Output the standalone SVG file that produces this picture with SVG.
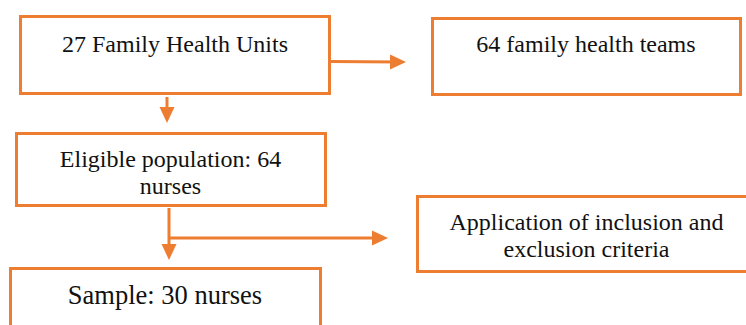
<svg xmlns="http://www.w3.org/2000/svg" width="746" height="325" viewBox="0 0 746 325">
  <style>
    .box { fill: #ffffff; stroke: #ED7D31; stroke-width: 3; }
    .lbl { font-family: "Liberation Serif", "Times New Roman", serif; font-size: 24px; fill: #111111; text-anchor: middle; }
    .conn { stroke: #ED7D31; stroke-width: 3; fill: none; }
  </style>
  <defs>
    <marker id="arrow" markerUnits="userSpaceOnUse" markerWidth="16" markerHeight="16" viewBox="0 0 16 16" refX="10" refY="8" orient="auto">
      <path d="M0,0.5 L16,8 L0,15.5 z" fill="#ED7D31"/>
    </marker>
  </defs>
  <rect x="0" y="0" width="746" height="325" fill="#ffffff"/>

  <g id="connectors">
    <line class="conn" x1="331" y1="61.5" x2="400" y2="62" marker-end="url(#arrow)"/>
    <line class="conn" x1="167" y1="97" x2="167" y2="117" marker-end="url(#arrow)"/>
    <line class="conn" x1="169" y1="208" x2="169" y2="254" marker-end="url(#arrow)"/>
    <line class="conn" x1="169" y1="238" x2="382" y2="238" marker-end="url(#arrow)"/>
  </g>

  <g id="node-units">
    <rect class="box" x="20.5" y="16.5" width="309" height="77"/>
    <text class="lbl" x="175" y="52">27 Family Health Units</text>
  </g>

  <g id="node-teams">
    <rect class="box" x="432.5" y="18.5" width="308" height="76"/>
    <text class="lbl" x="586" y="52">64 family health teams</text>
  </g>

  <g id="node-eligible">
    <rect class="box" x="16.5" y="133.5" width="309" height="72"/>
    <text class="lbl" x="170.5" y="167">Eligible population: 64</text>
    <text class="lbl" x="170.5" y="194">nurses</text>
  </g>

  <g id="node-criteria">
    <rect class="box" x="417.5" y="196.5" width="340" height="75"/>
    <text class="lbl" x="586.5" y="230">Application of inclusion and</text>
    <text class="lbl" x="586.5" y="257">exclusion criteria</text>
  </g>

  <g id="node-sample">
    <rect class="box" x="10.5" y="268.5" width="310" height="80"/>
    <text class="lbl" x="165" y="304" style="font-size:26.5px">Sample: 30 nurses</text>
  </g>
</svg>
